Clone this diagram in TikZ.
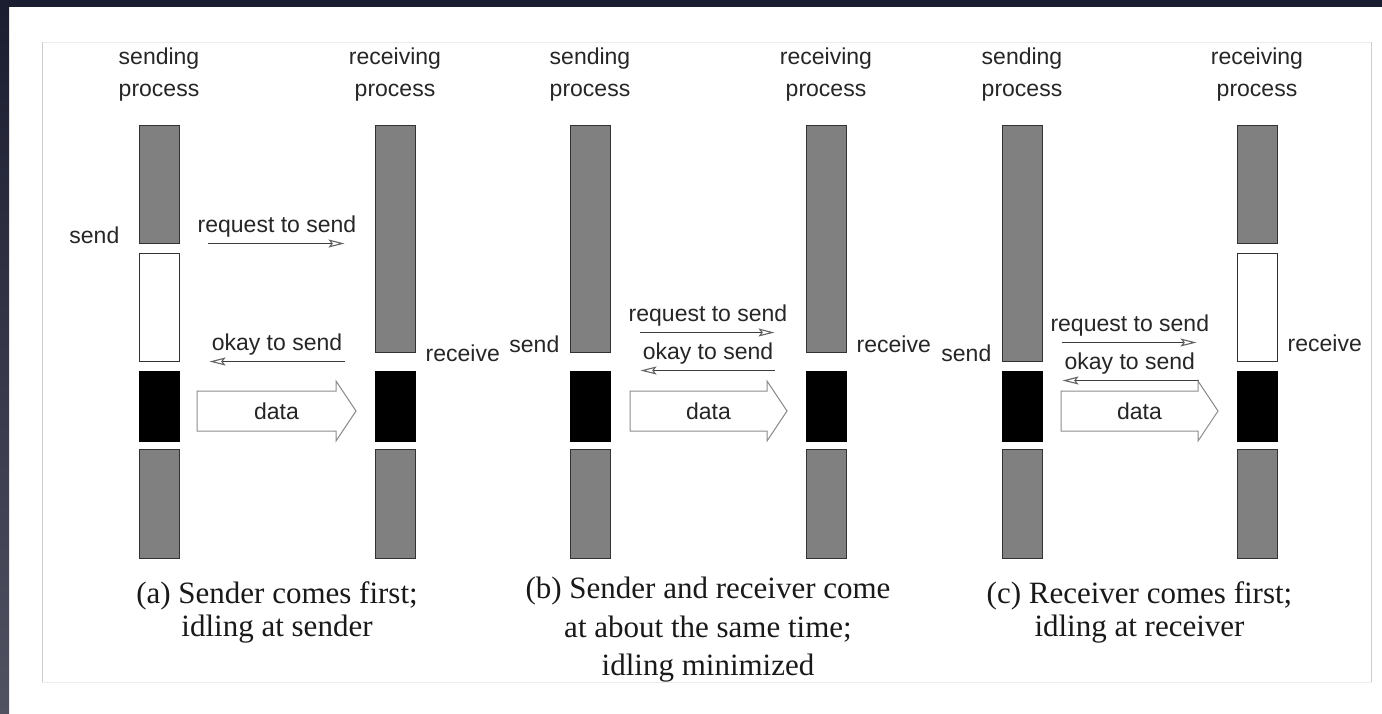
\documentclass[tikz,border=0pt]{standalone}
\usepackage{fontspec}
\setmainfont{Liberation Serif}
\setsansfont{Liberation Sans}
\usepackage{xcolor}
\definecolor{slidenavy}{RGB}{27,29,48}
\definecolor{slidegrey}{RGB}{80,82,98}
\definecolor{procgray}{RGB}{128,128,128}
\definecolor{baredge}{RGB}{50,50,50}
\definecolor{msgline}{RGB}{60,60,60}
\definecolor{tipgray}{RGB}{100,100,100}
\definecolor{dataedge}{RGB}{140,140,140}
\definecolor{framegray}{RGB}{205,205,205}
\definecolor{framelight}{RGB}{236,236,236}
\usetikzlibrary{arrows.meta,positioning,calc}
\tikzset{
  cbar/.style={draw=baredge, fill=procgray, line width=1pt,
               minimum width=40pt, inner sep=0pt},
  ibar/.style={draw=baredge, fill=white, line width=1pt,
               minimum width=40pt, inner sep=0pt},
  dbar/.style={draw=black, fill=black, line width=1pt,
               minimum width=40pt, inner sep=0pt},
  lbl/.style={font=\sffamily\fontsize{23}{28}\selectfont, text=black!85, inner sep=0pt},
  plbl/.style={font=\sffamily\fontsize{23}{32}\selectfont, text=black!85,
               align=center, inner sep=0pt},
  mlbl/.style={font=\sffamily\fontsize{23}{28}\selectfont, text=black!85, inner sep=6pt},
  msg/.style={draw=msgline, line width=1.3pt,
              -{Stealth[open, length=16pt, width=8pt, inset=3pt, line width=1.1pt, color=tipgray]}},
  darrow/.style={draw=dataedge, fill=white, line width=1pt, line join=miter},
  captxt/.style={font=\fontsize{31}{#1}\selectfont, text=black!90, align=center,
                 inner sep=0pt, anchor=north},
}

\begin{document}
\begin{tikzpicture}[x=1pt, y=-1pt]
\useasboundingbox (0,0) rectangle (1382,713);

% Slide background
\fill[slidenavy] (0,0) rectangle (1382,713);
\fill[white] (9,7) rectangle (1382,713);
\shade[top color=slidenavy, bottom color=slidegrey] (0,7) rectangle (9,713);

% Figure frame
\draw[framelight, line width=1pt] (42,42) rectangle (1371,682);
\draw[framegray, line width=1pt] (42,42) -- (42,682);
\draw[framegray, line width=1pt] (1371,42) -- (1371,682);

% Panel (a): sender comes first
\node[cbar, minimum height=118pt] (sa1) at (159,184) {};
\node[ibar, minimum height=108pt] (sa2) at (159,307) {};
\node[dbar, minimum height=70pt] (sa3) at (159,406) {};
\node[cbar, minimum height=109pt] (sa4) at (159,503.5) {};
\node[cbar, minimum height=227pt] (ra1) at (395,238.5) {};
\node[dbar, minimum height=70pt] (ra3) at (395,406) {};
\node[cbar, minimum height=109pt] (ra4) at (395,503.5) {};

\node[plbl, above=23pt of sa1] (sap) {sending\\process};
\node[plbl, above=23pt of ra1] (rap) {receiving\\process};
\node[lbl, anchor=base east] (senda) at ([xshift=-19pt]sa1.south west) {send};
\node[lbl, anchor=base west] (recva) at ([xshift=10pt]sa2.south -| ra1.east) {receive};

\draw[msg, shorten <=28pt, shorten >=30pt] (sa1.south east) -- (sa1.south east -| ra1.west)
  node[mlbl, midway, above] {request to send};
\draw[msg, shorten <=30pt, shorten >=30pt] (sa2.south east -| ra1.west) -- (sa2.south east)
  node[mlbl, midway, above] {okay to send};

\draw[darrow] (197,391) -- (336,391) -- (336,381) -- (356,411) -- (336,441) -- (336,431)
  -- (197,431) -- cycle;
\node[lbl] (da) at (276.5,411) {data};

\node[captxt=33] (capa) at (277,581) {(a) Sender comes first;\\idling at sender};

% Panel (b): both come at about the same time
\node[cbar, minimum height=227pt] (sb1) at (590,238.5) {};
\node[dbar, minimum height=70pt] (sb3) at (590,406) {};
\node[cbar, minimum height=109pt] (sb4) at (590,503.5) {};
\node[cbar, minimum height=227pt] (rb1) at (826,238.5) {};
\node[dbar, minimum height=70pt] (rb3) at (826,406) {};
\node[cbar, minimum height=109pt] (rb4) at (826,503.5) {};

\node[plbl, above=23pt of sb1] (sbp) {sending\\process};
\node[plbl, above=23pt of rb1] (rbp) {receiving\\process};
\node[lbl, anchor=base east] (sendb) at ([xshift=-10pt]sb1.south west) {send};
\node[lbl, anchor=base west] (recvb) at ([xshift=10pt]rb1.south east) {receive};

\coordinate (qb) at ([yshift=20pt]sb1.south east);
\draw[msg, shorten <=29pt, shorten >=31pt] (qb) -- (qb -| rb1.west)
  node[mlbl, midway, above] {request to send};
\draw[msg, shorten <=31pt, shorten >=30pt] (rb3.north west) -- (rb3.north west -| sb3.east)
  node[mlbl, midway, above] {okay to send};

\draw[darrow] (630,391) -- (767,391) -- (767,381) -- (787,411) -- (767,441) -- (767,431)
  -- (630,431) -- cycle;
\node[lbl] (db) at (708.5,411) {data};

\node[captxt=38.5] (capb) at (708,577) {(b) Sender and receiver come\\at about the same time;\\idling minimized};

% Panel (c): receiver comes first
\node[cbar, minimum height=236pt] (sc1) at (1022,243) {};
\node[dbar, minimum height=70pt] (sc3) at (1022,406) {};
\node[cbar, minimum height=109pt] (sc4) at (1022,503.5) {};
\node[cbar, minimum height=118pt] (rc1) at (1257,184) {};
\node[ibar, minimum height=108pt] (rc2) at (1257,307) {};
\node[dbar, minimum height=70pt] (rc3) at (1257,406) {};
\node[cbar, minimum height=109pt] (rc4) at (1257,503.5) {};

\node[plbl, above=23pt of sc1] (scp) {sending\\process};
\node[plbl, above=23pt of rc1] (rcp) {receiving\\process};
\node[lbl, anchor=base east] (sendc) at ([xshift=-10pt]sc1.south west) {send};
\node[lbl, anchor=base west] (recvc) at ([xshift=10pt, yshift=10pt]rc2.south east) {receive};

\coordinate (qc) at ([yshift=19pt]sc1.south east);
\draw[msg, shorten <=19pt, shorten >=40pt] (qc) -- (qc -| rc1.west)
  node[mlbl, pos=0.45, above] {request to send};
\coordinate (oc) at ([yshift=-10pt]rc3.north west);
\draw[msg, shorten <=38pt, shorten >=20pt] (oc) -- (oc -| sc3.east)
  node[mlbl, pos=0.55, above] {okay to send};

\draw[darrow] (1061,391) -- (1198,391) -- (1198,381) -- (1218,411) -- (1198,441) -- (1198,431)
  -- (1061,431) -- cycle;
\node[lbl] (dc) at (1139.5,411) {data};

\node[captxt=33] (capc) at (1139.5,581) {(c) Receiver comes first;\\idling at receiver};

\end{tikzpicture}
\end{document}
